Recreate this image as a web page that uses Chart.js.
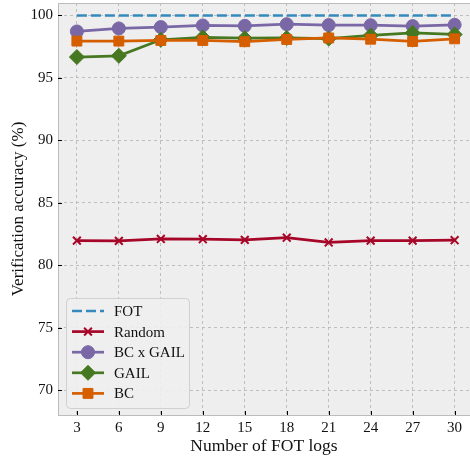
<!DOCTYPE html>
<html>
<head>
<meta charset="utf-8">
<script src="https://cdn.jsdelivr.net/npm/chart.js@4"></script>
<style>
  body { margin: 0; background: #fff; }
  #wrap { width: 470px; height: 462px; }
</style>
</head>
<body>
<div id="wrap"><canvas id="chart" width="470" height="462"></canvas></div>
<script>
// data
var logs = [3, 6, 9, 12, 15, 18, 21, 24, 27, 30];
var yTicks = [70, 75, 80, 85, 90, 95, 100];
var fot = [100, 100, 100, 100, 100, 100, 100, 100, 100, 100];
var random = [81.97, 81.95, 82.1, 82.08, 82.03, 82.2, 81.82, 81.97, 81.97, 82.0];
var bcGail = [98.72, 98.96, 99.07, 99.2, 99.17, 99.3, 99.23, 99.22, 99.15, 99.25];
var gail = [96.67, 96.77, 98.05, 98.25, 98.18, 98.2, 98.15, 98.4, 98.6, 98.48];
var bc = [97.95, 97.95, 98.0, 98.0, 97.9, 98.08, 98.2, 98.1, 97.92, 98.13];

var serif = "'Liberation Serif', 'DejaVu Serif', serif";

function pts(arr) {
  return arr.map(function (v, i) { return { x: logs[i], y: v }; });
}

var series = [
  { label: 'FOT', data: fot, color: '#348ABD', dash: [10, 4], style: false, r: 0 },
  { label: 'Random', data: random, color: '#A60628', dash: [], style: 'crossRot', r: 5.5 },
  { label: 'BC x GAIL', data: bcGail, color: '#7A68A6', dash: [], style: 'circle', r: 6.5 },
  { label: 'GAIL', data: gail, color: '#467821', dash: [], style: 'rectRot', r: 7.5 },
  { label: 'BC', data: bc, color: '#D55E00', dash: [], style: 'rect', r: 7 }
];

var datasets = series.map(function (s, i) {
  return {
    label: s.label,
    data: pts(s.data),
    borderColor: s.color,
    backgroundColor: s.color,
    borderWidth: 2.7,
    borderDash: s.dash,
    pointStyle: s.style,
    pointRadius: s.r,
    pointHoverRadius: s.r,
    pointBorderWidth: s.style == 'crossRot' ? 2 : 1,
    order: series.length - i,
    tension: 0
  };
});

// background, frame, inward ticks and legend
var decor = {
  id: 'decor',
  beforeDraw: function (chart) {
    var a = chart.chartArea, c = chart.ctx;
    c.save();
    c.fillStyle = '#eeeeee';
    c.fillRect(a.left, a.top, a.right - a.left, a.bottom - a.top);
    c.restore();
  },
  afterDatasetsDraw: function (chart) {
    var a = chart.chartArea, c = chart.ctx;
    var xs = chart.scales.x, ys = chart.scales.y;
    c.save();
    c.strokeStyle = '#bcbcbc';
    c.lineWidth = 1;
    c.strokeRect(a.left + 0.5, a.top + 0.5, a.right - a.left + 10, a.bottom - a.top);
    c.strokeStyle = '#000';
    c.lineWidth = 1;
    logs.forEach(function (v) {
      var px = Math.round(xs.getPixelForValue(v)) + 0.5;
      c.beginPath(); c.moveTo(px, a.bottom); c.lineTo(px, a.bottom - 4); c.stroke();
    });
    yTicks.forEach(function (v) {
      var py = Math.round(ys.getPixelForValue(v)) + 0.5;
      c.beginPath(); c.moveTo(a.left, py); c.lineTo(a.left + 4, py); c.stroke();
    });

    // legend
    var lx = 66, ly = 298, lw = 123, lh = 110;
    c.beginPath();
    c.roundRect(lx + 0.5, ly + 0.5, lw, lh, 4);
    c.fillStyle = 'rgba(238,238,238,0.9)';
    c.fill();
    c.strokeStyle = '#d0d0d0';
    c.stroke();
    c.font = '15px ' + serif;
    c.textBaseline = 'middle';
    series.forEach(function (s, i) {
      var y = 311 + i * 20.6;
      c.strokeStyle = s.color;
      c.lineWidth = 2.7;
      c.setLineDash(s.dash);
      c.beginPath(); c.moveTo(72, y); c.lineTo(104, y); c.stroke();
      c.setLineDash([]);
      if (s.style) {
        c.fillStyle = s.color;
        c.strokeStyle = s.color;
        c.lineWidth = s.style == 'crossRot' ? 2 : 1;
        Chart.helpers.drawPoint(c, {
          pointStyle: s.style, radius: s.r, borderWidth: c.lineWidth
        }, 88, y);
      }
      c.fillStyle = '#111';
      c.fillText(s.label, 114, y + 1);
    });
    c.restore();
  }
};

new Chart(document.getElementById('chart'), {
  type: 'line',
  data: { datasets: datasets },
  plugins: [decor],
  options: {
    responsive: false,
    animation: false,
    layout: { autoPadding: false, padding: { top: 3, right: 0, left: 0, bottom: 0 } },
    plugins: { legend: { display: false }, tooltip: { enabled: false } },
    scales: {
      x: {
        type: 'linear',
        min: 1.65,
        max: 31.1,
        afterBuildTicks: function (s) { s.ticks = logs.map(function (v) { return { value: v }; }); },
        afterFit: function (s) { s.height = 47; s.paddingLeft = 0; s.paddingRight = 0; },
        grid: { color: '#b2b2b2', lineWidth: 0.8, drawTicks: false },
        border: { display: false, dash: [3, 3] },
        ticks: { color: '#111', font: { family: serif, size: 15 }, padding: 4, maxRotation: 0 },
        title: { display: true, text: 'Number of FOT logs', color: '#111', font: { family: serif, size: 17.5 }, padding: { top: 0, bottom: 5 } }
      },
      y: {
        min: 68,
        max: 101,
        afterBuildTicks: function (s) { s.ticks = yTicks.map(function (v) { return { value: v }; }); },
        afterFit: function (s) { s.width = 58; s.paddingTop = 0; s.paddingBottom = 0; },
        grid: { color: '#b2b2b2', lineWidth: 0.8, drawTicks: false },
        border: { display: false, dash: [3, 3] },
        ticks: { color: '#111', font: { family: serif, size: 15 }, padding: 5 },
        title: { display: true, text: 'Verification accuracy (%)', color: '#111', font: { family: serif, size: 17 }, padding: { top: 8, bottom: 0 } }
      }
    }
  }
});
</script>
</body>
</html>
